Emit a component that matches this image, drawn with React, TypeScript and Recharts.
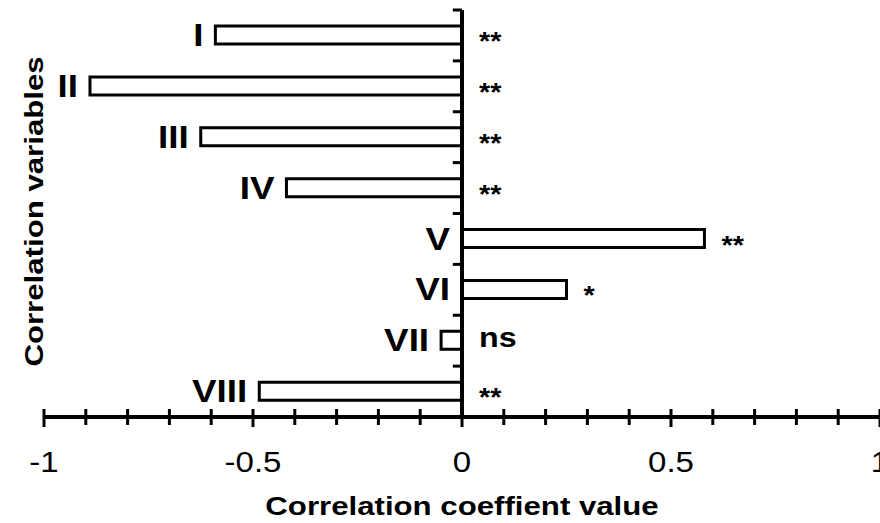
import { BarChart, Bar, XAxis, YAxis, ReferenceLine, ReferenceArea, LabelList, Label } from "recharts";

const VARIABLES = ["I", "II", "III", "IV", "V", "VI", "VII", "VIII"];
const COEFFICIENTS = [-0.59, -0.89, -0.625, -0.42, 0.58, 0.25, -0.05, -0.485];
const SIGNIFICANCE = ["**", "**", "**", "**", "**", "*", "ns", "**"];
const X_TICKS = [
  -1, -0.9, -0.8, -0.7, -0.6, -0.5, -0.4, -0.3, -0.2, -0.1, 0,
  0.1, 0.2, 0.3, 0.4, 0.5, 0.6, 0.7, 0.8, 0.9, 1,
];

const data = VARIABLES.map((name, i) => ({ name, r: COEFFICIENTS[i], sig: SIGNIFICANCE[i] }));

const FONT = "'Liberation Sans', Arial, sans-serif";

const XTick = (props: any) => {
  const { x, y, payload } = props;
  const v = payload.value;
  const major = Math.abs(v * 2 - Math.round(v * 2)) < 1e-6;
  return (
    <g>
      <line x1={x} x2={x} y1={y - 8} y2={y + (major ? 10 : 8)} stroke="#000" strokeWidth={3} />
      {major && (
        <text
          transform={`translate(${x},${y + 55}) scale(1.1,1)`}
          textAnchor="middle"
          fontSize={30}
          fontFamily={FONT}
          fill="#000"
        >
          {String(v)}
        </text>
      )}
    </g>
  );
};

// small tick on the left of the zero line, at the top edge of each category band
const BandEdgeTick = (props: any) => {
  const { x, y, width } = props;
  return <line x1={x} x2={x + width} y1={y} y2={y} stroke="#000" strokeWidth={3} />;
};

const CategoryLabel = (props: any) => {
  const { x, y, width, height, value } = props;
  const left = Math.min(x, x + width);
  const cy = y + height / 2;
  return (
    <text
      transform={`translate(${left - 12},${cy + 11}) scale(1.15,1)`}
      textAnchor="end"
      fontSize={32}
      fontWeight="bold"
      fontFamily={FONT}
      fill="#000"
    >
      {value}
    </text>
  );
};

const SigLabel = (props: any) => {
  const { x, y, width, height, value } = props;
  const right = Math.max(x, x + width);
  const cy = y + height / 2;
  const ns = value === "ns";
  return (
    <text
      transform={`translate(${right + 17},${cy + (ns ? 7 : 15)}) scale(1.15,1)`}
      textAnchor="start"
      fontSize={ns ? 28 : 25}
      fontWeight="bold"
      fontFamily={FONT}
      fill="#000"
    >
      {value}
    </text>
  );
};

const XTitle = (props: any) => {
  const { viewBox } = props;
  const cx = viewBox.x + viewBox.width / 2;
  return (
    <text
      transform={`translate(${cx},${viewBox.y + 98}) scale(1.2,1)`}
      textAnchor="middle"
      fontSize={26}
      fontWeight="bold"
      fontFamily={FONT}
      fill="#000"
    >
      Correlation coeffient value
    </text>
  );
};

const YTitle = (props: any) => {
  const { viewBox } = props;
  const cy = viewBox.y + viewBox.height / 2;
  return (
    <text
      transform={`translate(${viewBox.x + viewBox.width - 1},${cy - 2}) rotate(-90) scale(1.2,1)`}
      textAnchor="middle"
      fontSize={26}
      fontWeight="bold"
      fontFamily={FONT}
      fill="#000"
    >
      Correlation variables
    </text>
  );
};

export default function App() {
  return (
    <div style={{ position: "absolute", left: 0, top: 0, width: 880, height: 523, background: "#fff" }}>
      <BarChart
        width={880}
        height={523}
        data={data}
        layout="vertical"
        margin={{ top: 10, right: 0, bottom: 0, left: 0 }}
      >
        <XAxis
          type="number"
          domain={[-1, 1]}
          ticks={X_TICKS}
          interval={0}
          height={106}
          tickSize={0}
          tickMargin={0}
          tickLine={false}
          axisLine={{ stroke: "#000", strokeWidth: 4 }}
          tick={<XTick />}
        >
          <Label content={<XTitle />} />
        </XAxis>
        <YAxis
          type="category"
          dataKey="name"
          width={44}
          axisLine={false}
          tickLine={false}
          tick={false}
        >
          <Label content={<YTitle />} />
        </YAxis>
        <Bar
          dataKey="r"
          fill="#fff"
          stroke="#000"
          strokeWidth={3}
          barSize={18}
          isAnimationActive={false}
        >
          <LabelList dataKey="name" content={<CategoryLabel />} />
          <LabelList dataKey="sig" content={<SigLabel />} />
        </Bar>
        {VARIABLES.map((v) => (
          <ReferenceArea
            key={v}
            y1={v}
            y2={v}
            x1={-0.022}
            x2={0}
            ifOverflow="visible"
            shape={<BandEdgeTick />}
          />
        ))}
        <ReferenceLine x={0} stroke="#000" strokeWidth={4} />
      </BarChart>
    </div>
  );
}
